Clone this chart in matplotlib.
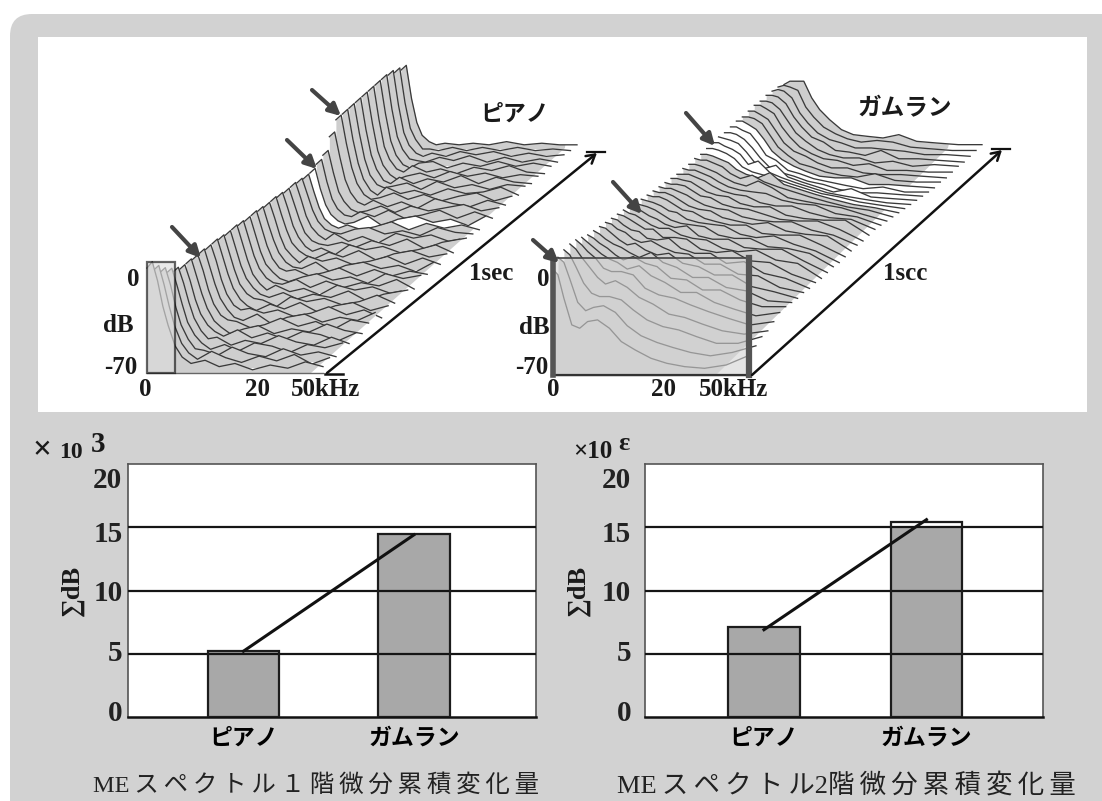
import matplotlib
matplotlib.use("Agg")
import matplotlib.pyplot as plt
from matplotlib.patches import FancyBboxPatch, Rectangle, Polygon

plt.rcParams['font.family'] = ['Liberation Serif', 'Noto Sans CJK JP', 'DejaVu Sans']

W, H = 1102, 801
CJK = ['Noto Sans CJK JP', 'DejaVu Sans']

categories = ["ピアノ", "ガムラン"]
bars_1 = [5.25, 14.45]
bars_2 = [7.1, 15.4]
fill_1 = [5.25, 14.45]
fill_2 = [7.1, 15.0]
line_1 = [5.2, 14.4]
line_2 = [6.9, 15.6]
grid_vals = [5, 10, 15]
tick_pos = [0.55, 5.26, 9.97, 14.7, 18.95]
tick_labels = ["0", "5", "10", "15", "20"]
title_1 = "\u2009".join("MEスペクトル") .replace("M\u2009E", "ME") + "\u2009１\u2009" + "\u2009".join("階微分累積変化量")
title_2 = "\u2009".join("MEスペクトル") .replace("M\u2009E", "ME") + "2" + "\u2009".join("階微分累積変化量")

piano_freq = [0, .03, .06, .09, .12, .16, .2, .25, .33, .41, .5, .6, .7, .8, .9, 1]
piano_white = [25]
piano_db = [
    [-4, 0, -12, -28, -40, -53, -60, -64, -62, -66, -64, -68, -65, -67, -63, -66],
    [-9, -6, -18, -32, -44, -55, -61, -65, -60, -64, -67, -63, -66, -62, -68, -64],
    [-14, -11, -22, -36, -47, -56, -62, -63, -66, -61, -65, -67, -62, -66, -64, -67],
    [-18, -15, -26, -38, -49, -57, -62, -66, -63, -67, -62, -64, -68, -63, -65, -62],
    [-21, -18, -28, -40, -50, -58, -63, -62, -67, -64, -66, -61, -65, -67, -62, -66],
    [-23, -20, -30, -42, -51, -58, -62, -65, -61, -66, -63, -67, -62, -64, -68, -63],
    [-23, -20, -31, -42, -51, -59, -63, -67, -64, -62, -67, -64, -66, -61, -65, -67],
    [-24, -21, -31, -43, -52, -59, -62, -63, -67, -65, -61, -66, -63, -68, -62, -64],
    [-24, -21, -32, -43, -52, -59, -64, -66, -62, -68, -64, -62, -67, -64, -66, -61],
    [-25, -22, -32, -44, -53, -60, -63, -62, -65, -63, -67, -65, -61, -66, -63, -68],
    [-25, -22, -33, -44, -53, -60, -64, -67, -63, -66, -62, -68, -64, -62, -67, -64],
    [-26, -23, -34, -45, -54, -60, -63, -64, -68, -62, -65, -63, -67, -65, -61, -66],
    [-27, -24, -35, -46, -54, -60, -64, -66, -63, -67, -64, -66, -62, -68, -64, -62],
    [-27, -24, -35, -46, -55, -61, -65, -62, -66, -64, -68, -62, -65, -63, -67, -65],
    [-28, -25, -36, -47, -55, -61, -64, -65, -62, -67, -63, -67, -64, -66, -62, -68],
    [-29, -26, -37, -48, -56, -61, -65, -67, -64, -62, -66, -64, -68, -62, -65, -63],
    [-29, -26, -37, -48, -56, -62, -64, -63, -67, -65, -62, -67, -63, -67, -64, -66],
    [-30, -27, -38, -48, -56, -62, -65, -66, -62, -68, -64, -62, -66, -64, -68, -62],
    [-31, -28, -38, -49, -57, -62, -66, -62, -65, -63, -67, -65, -62, -67, -63, -67],
    [-31, -28, -39, -49, -57, -62, -65, -67, -63, -66, -62, -68, -64, -62, -66, -64],
    [-32, -29, -39, -50, -57, -63, -66, -64, -68, -62, -65, -63, -67, -65, -62, -67],
    [-33, -30, -40, -50, -58, -63, -65, -66, -64, -67, -63, -66, -62, -68, -64, -62],
    [-33, -30, -40, -51, -58, -63, -66, -62, -67, -64, -68, -62, -65, -63, -67, -65],
    [-34, -31, -41, -51, -58, -63, -65, -66, -63, -62, -66, -64, -67, -62, -65, -66],
    [-35, -32, -43, -53, -60, -64, -66, -64, -67, -65, -62, -67, -63, -66, -64, -67],
    [-35, -32, -45, -55, -61, -65, -67, -66, -62, -68, -64, -62, -66, -64, -68, -62],
    [-33, -30, -44, -55, -61, -65, -66, -63, -66, -62, -67, -65, -62, -67, -63, -67],
    [-31, -28, -42, -54, -60, -65, -67, -66, -63, -67, -63, -66, -64, -62, -66, -64],
    [-23, -20, -36, -50, -58, -64, -66, -63, -67, -64, -68, -62, -65, -67, -63, -66],
    [-16, -13, -31, -46, -56, -63, -66, -65, -62, -66, -63, -67, -64, -62, -67, -64],
    [-16, -13, -32, -47, -57, -64, -67, -62, -66, -64, -67, -63, -66, -65, -62, -67],
    [-16, -13, -32, -48, -58, -64, -66, -65, -63, -67, -62, -66, -64, -67, -64, -65],
    [-16, -13, -33, -49, -58, -65, -67, -63, -67, -64, -66, -62, -67, -63, -66, -67],
    [-16, -13, -33, -50, -59, -65, -68, -66, -64, -67, -63, -66, -64, -67, -65, -66],
    [-16, -13, -34, -51, -59, -65, -67, -63, -67, -65, -68, -64, -66, -63, -67, -68],
    [-16, -13, -34, -51, -60, -66, -68, -65, -64, -68, -65, -67, -64, -67, -65, -67],
    [-16, -13, -35, -52, -60, -66, -67, -68, -65, -67, -64, -68, -65, -68, -66, -68],
    [-17, -14, -36, -53, -61, -66, -68, -66, -68, -65, -67, -65, -68, -66, -68, -67],
    [-19, -16, -38, -54, -61, -67, -67, -68, -66, -68, -66, -68, -66, -68, -67, -68],
    [-21, -18, -39, -54, -62, -66, -68, -67, -68, -67, -68, -66, -68, -67, -68, -68],
]

gamelan_freq = [0, .03, .06, .1, .14, .18, .23, .29, .35, .42, .5, .58, .67, .77, .88, 1]
gamelan_white = [26, 27, 28, 29, 30, 31]
gamelan_db = [
    [-6, -10, -24, -40, -42, -38, -37, -42, -50, -55, -60, -63, -65, -66, -64, -58],
    [-3, -6, -16, -30, -35, -33, -32, -36, -44, -50, -54, -57, -60, -62, -60, -56],
    [-2, -5, -12, -22, -28, -30, -30, -32, -38, -44, -48, -50, -54, -58, -58, -54],
    [-2, -5, -10, -16, -22, -26, -24, -28, -34, -38, -44, -46, -50, -54, -56, -54],
    [-3, -6, -10, -14, -20, -22, -22, -24, -32, -36, -38, -42, -46, -50, -54, -52],
    [-5, -8, -11, -15, -18, -20, -24, -22, -28, -32, -38, -38, -44, -48, -52, -50],
    [-7, -9, -12, -15, -19, -22, -20, -24, -26, -33, -34, -40, -40, -46, -50, -50],
    [-8, -10, -13, -16, -18, -21, -24, -21, -27, -30, -36, -36, -42, -44, -50, -51],
    [-9, -10, -13, -17, -20, -19, -23, -26, -25, -31, -33, -38, -38, -45, -48, -52],
    [-10, -11, -14, -16, -20, -22, -21, -25, -28, -29, -35, -35, -41, -42, -49, -52],
    [-11, -12, -15, -18, -19, -23, -24, -23, -29, -32, -32, -38, -37, -44, -47, -53],
    [-12, -13, -15, -18, -21, -21, -26, -26, -27, -33, -35, -34, -40, -41, -48, -53],
    [-13, -15, -16, -19, -22, -24, -24, -28, -30, -31, -36, -38, -37, -43, -45, -54],
    [-15, -16, -17, -20, -22, -25, -27, -26, -32, -34, -34, -39, -40, -40, -47, -54],
    [-16, -17, -18, -20, -23, -26, -28, -29, -30, -35, -37, -37, -42, -43, -46, -54],
    [-17, -18, -19, -21, -24, -25, -29, -31, -32, -33, -38, -40, -39, -44, -48, -55],
    [-18, -19, -19, -21, -24, -27, -28, -32, -34, -36, -36, -41, -42, -42, -48, -55],
    [-19, -20, -20, -22, -25, -28, -30, -31, -35, -37, -39, -38, -43, -45, -46, -55],
    [-20, -21, -21, -23, -25, -28, -31, -33, -34, -38, -40, -41, -41, -46, -49, -55],
    [-21, -22, -22, -23, -26, -29, -30, -34, -36, -37, -40, -43, -44, -44, -49, -56],
    [-22, -22, -23, -24, -27, -30, -32, -33, -37, -39, -39, -44, -46, -47, -47, -56],
    [-23, -23, -23, -25, -27, -30, -33, -35, -36, -40, -42, -42, -46, -49, -50, -56],
    [-23, -24, -24, -26, -28, -31, -34, -36, -37, -38, -42, -44, -45, -50, -52, -57],
    [-24, -24, -25, -27, -29, -32, -35, -37, -34, -38, -44, -46, -48, -50, -54, -58],
    [-24, -25, -25, -27, -29, -33, -36, -34, -38, -41, -44, -47, -50, -53, -55, -59],
    [-25, -25, -26, -28, -30, -34, -37, -39, -36, -43, -46, -49, -52, -55, -57, -60],
    [-25, -25, -26, -28, -31, -36, -39, -41, -43, -46, -49, -52, -54, -57, -59, -61],
    [-25, -25, -27, -29, -32, -38, -36, -43, -46, -49, -52, -55, -57, -59, -61, -62],
    [-25, -26, -27, -29, -34, -40, -44, -42, -49, -52, -55, -58, -56, -61, -62, -63],
    [-26, -26, -27, -30, -35, -41, -47, -50, -52, -55, -57, -60, -62, -62, -63, -64],
    [-26, -26, -28, -30, -36, -43, -46, -52, -54, -57, -59, -61, -63, -62, -65, -65],
    [-26, -26, -28, -31, -37, -44, -49, -53, -56, -59, -60, -60, -64, -64, -65, -66],
    [-27, -27, -28, -31, -38, -45, -50, -55, -57, -60, -62, -63, -61, -65, -66, -66],
    [-27, -27, -29, -32, -39, -46, -51, -54, -58, -61, -61, -64, -65, -65, -66, -67],
    [-27, -27, -29, -32, -40, -46, -52, -56, -59, -60, -63, -62, -66, -66, -67, -67],
    [-28, -28, -29, -33, -40, -47, -52, -57, -60, -62, -62, -65, -64, -67, -66, -67],
    [-28, -28, -29, -33, -41, -47, -53, -56, -61, -62, -64, -61, -66, -66, -67, -68],
    [-29, -28, -29, -33, -42, -48, -54, -58, -60, -63, -63, -64, -65, -67, -67, -68],
    [-30, -29, -30, -32, -42, -48, -54, -58, -61, -63, -62, -63, -66, -67, -68, -68],
    [-32, -30, -30, -30, -40, -47, -53, -59, -62, -63, -64, -62, -66, -67, -68, -68],
]


def waterfall(ax, freq, spectra, white, x0, y0, width, dx, dy, px_db, trim):
    n = len(spectra)
    # the grey stops on a straight line, the lines stick out past it
    clip = Polygon([(0, y0), (x0 + width - trim, y0), (x0 + width + dx - trim, y0 + dy), (x0 + width + dx, 0), (0, 0)],
                   transform=ax.transData, fc="none", ec="none")
    ax.add_patch(clip)
    for i in range(n - 1, -1, -1):
        t = i / (n - 1)
        base = y0 + dy * t
        xs = [x0 + dx * t + f * width for f in freq]
        ys = [base - (v + 70) * px_db for v in spectra[i]]
        face = "white" if i in white else "#cecece"
        # white under the whole slice, grey only up to the straight edge
        ax.fill_between(xs, ys, base, color="white", lw=0, zorder=2)
        band = ax.fill_between(xs, ys, base, color=face, lw=0, zorder=2)
        band.set_clip_path(clip)
        ax.plot(xs, ys, color="#3a3a3a", lw=0.95, zorder=2)
    ax.plot([x0, x0 + width], [y0, y0], color="#666666", lw=1, zorder=2)


def bar_chart(fig, box, values, fills, line, x_range, bar_w, y_pad):
    left, top, right, bottom = box
    ax = fig.add_axes([left / W, 1 - bottom / H, (right - left) / W, (bottom - top) / H])
    ax.set_facecolor("white")
    pos = range(len(categories))
    ax.bar(pos, fills, width=bar_w, color="#a8a8a8", lw=0, zorder=2)
    for v in grid_vals:
        ax.axhline(v, color="#151515", lw=1.6, zorder=3)
    ax.bar(pos, values, width=bar_w, facecolor="none", edgecolor="#1c1c1c", lw=1.6, zorder=3)
    ax.plot(pos, line, color="#111111", lw=2.2, zorder=4)
    ax.set_xlim(*x_range)
    ax.set_ylim(0, 20)
    ax.set_xticks(pos, categories, family=CJK, fontweight="bold", fontsize=16.5)
    ax.set_yticks(tick_pos, tick_labels, fontweight="bold", fontsize=21, color="#222222")
    ax.tick_params(length=0, axis="both")
    ax.tick_params(axis="x", pad=7)
    ax.tick_params(axis="y", pad=y_pad)
    for name, s in ax.spines.items():
        s.set_color("#555555" if name != "bottom" else "#111111")
        s.set_linewidth(1.2 if name != "bottom" else 1.8)
    return ax


fig = plt.figure(figsize=(W / 100, H / 100), dpi=100, facecolor="white")
bg = fig.add_axes([0, 0, 1, 1])
bg.set_xlim(0, W)
bg.set_ylim(H, 0)
bg.axis("off")

bg.add_patch(FancyBboxPatch((10, 14), W + 40, H + 40, boxstyle="round,pad=0,rounding_size=22",
                            fc="#d2d2d2", ec="none", zorder=0))
bg.add_patch(Rectangle((38, 37), 1049, 375, fc="white", ec="none", zorder=1))

waterfall(bg, piano_freq, piano_db, piano_white, 147, 373, 176, 254, -225, 1.59, 12)
waterfall(bg, gamelan_freq, gamelan_db, gamelan_white, 552, 375, 198, 232, -227, 1.67, 34)

# front boxes
bg.add_patch(Rectangle((147, 262), 28, 111, fc="#dcdcdc", ec="#111111", lw=1.6, alpha=0.65, zorder=3))
bg.add_patch(Rectangle((552, 258), 198, 117, fc="#d4d4d4", ec="none", alpha=0.6, zorder=3))
bg.plot([552, 750], [258, 258], color="#444444", lw=1.2, zorder=4)
bg.plot([552, 750], [375, 375], color="#333333", lw=1.6, zorder=4)
bg.plot([553, 553], [262, 375], color="#555555", lw=4, zorder=4)
bg.plot([749, 749], [258, 375], color="#555555", lw=4.5, zorder=4)

# time axes
for start, tip in [((327, 373), (597, 153)), ((752, 375), (1002, 150))]:
    bg.annotate("", xy=tip, xytext=start, zorder=5,
                arrowprops=dict(arrowstyle="->,head_length=0.6,head_width=0.35", color="#111111", lw=1.8, shrinkA=0, shrinkB=0))
    bg.plot([tip[0] - 10, tip[0] + 8], [tip[1] - 1, tip[1] - 1], color="#111111", lw=1.6, zorder=5)
bg.plot([325, 343], [374, 374], color="#111111", lw=1.8, zorder=5)

# arrows on the ridge
ridge_arrows = [((172, 227), (201, 258)), ((287, 140), (317, 169)), ((312, 90), (341, 116)),
                ((533, 240), (559, 263)), ((613, 182), (642, 214)), ((686, 113), (715, 146))]
for start, tip in ridge_arrows:
    bg.annotate("", xy=tip, xytext=start, zorder=6,
                arrowprops=dict(arrowstyle="-|>,head_length=0.7,head_width=0.35", color="#444444", lw=3, shrinkA=0, shrinkB=0))

serif = dict(fontweight="bold", ha="center", va="center", color="#1a1a1a", zorder=7)
for x, y, s in [(133, 280, "0"), (118, 325, "dB"), (121, 367, "-70"), (145, 390, "0"), (257, 390, "20"), (325, 390, "50kHz"),
                (543, 280, "0"), (534, 327, "dB"), (532, 368, "-70"), (553, 390, "0"), (663, 390, "20"), (733, 390, "50kHz")]:
    bg.text(x, y, s, fontsize=18, **serif)
bg.text(491, 273, "1sec", fontsize=18, **serif)
bg.text(905, 273, "1scc", fontsize=18, **serif)
bg.text(515, 114, "ピアノ", family=CJK, fontsize=16.5, fontweight="bold", ha="center", va="center", color="#1a1a1a", zorder=7)
bg.text(905, 108, "ガムラン", family=CJK, fontsize=17, fontweight="bold", ha="center", va="center", color="#1a1a1a", zorder=7)

# bar chart annotations
bg.text(42, 451, "×", fontsize=24, **serif)
bg.text(71, 452, "10", fontsize=17, **serif)
bg.text(98, 445, "3", fontsize=21, **serif)
bg.text(593, 452, "×10", fontsize=18, **serif)
bg.text(624, 443, "ε", fontsize=19, **serif)
bg.text(72, 590, "∑dB", fontsize=19, rotation=90, **serif)
bg.text(578, 590, "∑dB", fontsize=19, rotation=90, **serif)
bg.text(316, 785, title_1, fontsize=17.6, ha="center", va="center", color="#222222", zorder=7)
bg.text(846, 785, title_2, fontsize=19, ha="center", va="center", color="#222222", zorder=7)

bar_chart(fig, (128, 464, 536, 717), bars_1, fill_1, line_1, (-0.677, 1.716), 0.42, 4)
bar_chart(fig, (645, 464, 1043, 717), bars_2, fill_2, line_2, (-0.732, 1.717), 0.44, 10)

fig.savefig("out.png", dpi=100, facecolor="white")
